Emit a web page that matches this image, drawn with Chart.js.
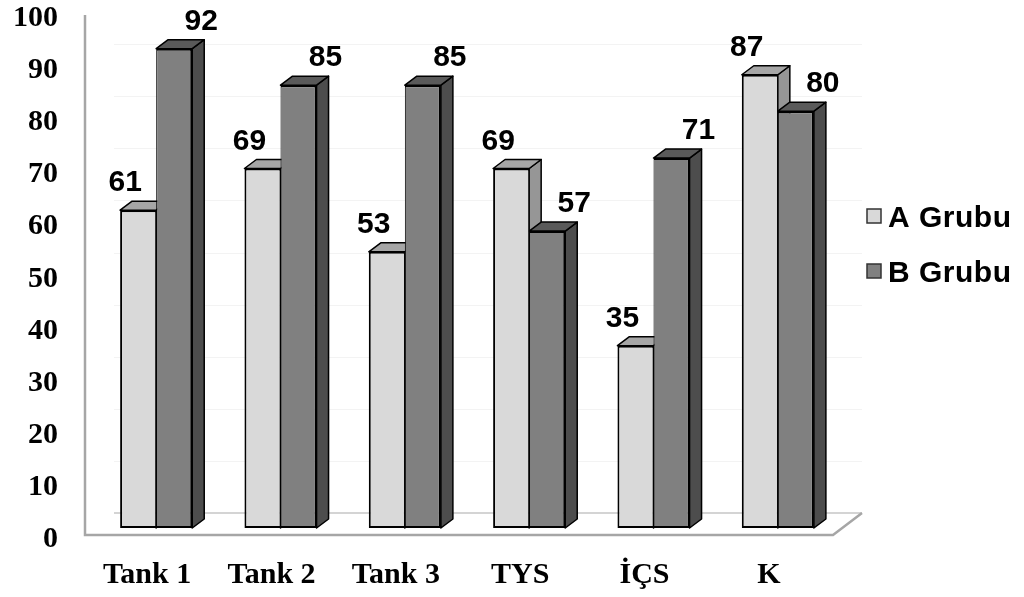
<!DOCTYPE html>
<html>
<head>
<meta charset="utf-8">
<script src="https://cdn.jsdelivr.net/npm/chart.js@4/dist/chart.umd.min.js"></script>
<style>
  html, body { margin: 0; padding: 0; background: #fff; }
  canvas { display: block; }
</style>
</head>
<body>
<canvas id="myChart" width="1024" height="597"></canvas>
<script>
'use strict';

let categories = ['Tank 1', 'Tank 2', 'Tank 3', 'TYS', 'İÇS', 'K'];
let groupA = [61, 69, 53, 69, 35, 87];
let groupB = [92, 85, 85, 57, 71, 80];
let seriesNames = ['A Grubu', 'B Grubu'];
let yTicks = [0, 10, 20, 30, 40, 50, 60, 70, 80, 90, 100];

// front / top / side shades for each series
let shades = [
    { front: '#d9d9d9', top: '#a6a6a6', side: '#969696' },
    { front: '#808080', top: '#5a5a5a', side: '#4d4d4d' }
];

let depthX = 12;
let depthY = -9;

// floor, back wall lines and the left wall edge
let wallPlugin = {
    id: 'wall',
    beforeDatasetsDraw(chart) {
        let ctx = chart.ctx;
        let area = chart.chartArea;
        let yScale = chart.scales.y;
        let base = yScale.getPixelForValue(0);
        ctx.save();

        ctx.strokeStyle = '#f3f3f3';
        ctx.lineWidth = 1;
        for (let i = 1; i < yTicks.length - 1; i++) {
            let gy = Math.round(yScale.getPixelForValue(yTicks[i]) - 15) + 0.5;
            ctx.beginPath();
            ctx.moveTo(area.left + 20, gy);
            ctx.lineTo(area.right + 22, gy);
            ctx.stroke();
        }

        ctx.strokeStyle = '#d4d4d4';
        ctx.lineWidth = 2;
        ctx.beginPath();
        ctx.moveTo(area.left + 20, base - 15);
        ctx.lineTo(area.right + 22, base - 15);
        ctx.stroke();

        ctx.strokeStyle = '#a6a6a6';
        ctx.lineWidth = 2.5;
        ctx.beginPath();
        ctx.moveTo(area.left - 9, 15);
        ctx.lineTo(area.left - 9, base + 7);
        ctx.lineTo(area.right - 7, base + 7);
        ctx.lineTo(area.right + 22, base - 15);
        ctx.stroke();

        ctx.restore();
    }
};

// side and top faces of each bar, drawn before the fronts
let depthPlugin = {
    id: 'depth',
    beforeDatasetsDraw(chart) {
        let ctx = chart.ctx;
        ctx.save();
        ctx.lineWidth = 1.5;
        ctx.lineJoin = 'round';
        ctx.strokeStyle = '#000';
        for (let i = 0; i < categories.length; i++) {
            for (let d = 0; d < chart.data.datasets.length; d++) {
                let bar = chart.getDatasetMeta(d).data[i];
                let p = bar.getProps(['x', 'y', 'base', 'width'], true);
                let left = p.x - p.width / 2;
                let right = p.x + p.width / 2;

                ctx.fillStyle = shades[d].side;
                ctx.beginPath();
                ctx.moveTo(right, p.y);
                ctx.lineTo(right + depthX, p.y + depthY);
                ctx.lineTo(right + depthX, p.base + depthY);
                ctx.lineTo(right, p.base);
                ctx.closePath();
                ctx.fill();
                ctx.stroke();

                ctx.fillStyle = shades[d].top;
                ctx.beginPath();
                ctx.moveTo(left, p.y);
                ctx.lineTo(left + depthX, p.y + depthY);
                ctx.lineTo(right + depthX, p.y + depthY);
                ctx.lineTo(right, p.y);
                ctx.closePath();
                ctx.fill();
                ctx.stroke();
            }
        }
        ctx.restore();
    }
};

// axis texts, value labels and legend
let labelPlugin = {
    id: 'labels',
    afterDraw(chart) {
        let ctx = chart.ctx;
        let xScale = chart.scales.x;
        let yScale = chart.scales.y;
        ctx.save();
        ctx.fillStyle = '#000';

        ctx.font = 'bold 30px "Liberation Serif", "Times New Roman", serif';
        ctx.textAlign = 'right';
        ctx.textBaseline = 'alphabetic';
        yTicks.forEach(function (v) {
            ctx.fillText(String(v), 58, yScale.getPixelForValue(v) + 19);
        });

        ctx.textAlign = 'center';
        categories.forEach(function (c, i) {
            ctx.fillText(c, xScale.getPixelForValue(i) - 9, 583);
        });

        ctx.font = 'bold 30px "Liberation Sans", Arial, sans-serif';
        let shift = [-13, 27];
        chart.data.datasets.forEach(function (ds, d) {
            chart.getDatasetMeta(d).data.forEach(function (bar, i) {
                ctx.fillText(String(ds.data[i]), bar.x + shift[d], bar.y - 19);
            });
        });

        // legend
        ctx.textAlign = 'left';
        ctx.font = 'bold 30px "Liberation Sans", Arial, sans-serif';
        ctx.letterSpacing = '0.5px';
        let rows = [216, 271];
        seriesNames.forEach(function (name, d) {
            ctx.fillStyle = shades[d].front;
            ctx.strokeStyle = '#333';
            ctx.lineWidth = 1.5;
            ctx.fillRect(867, rows[d] - 7, 14, 14);
            ctx.strokeRect(867, rows[d] - 7, 14, 14);
            ctx.fillStyle = '#000';
            ctx.fillText(name, 888, rows[d] + 11);
        });
        ctx.restore();
    }
};

let ctx = document.getElementById('myChart').getContext('2d');
let myChart = new Chart(ctx, {
    type: 'bar',
    data: {
        labels: categories,
        datasets: [{
            label: seriesNames[0],
            data: groupA,
            backgroundColor: shades[0].front,
            borderColor: '#000',
            borderWidth: { left: 2, top: 2, bottom: 2, right: 1 },
            borderSkipped: false,
            categoryPercentage: 0.58,
            barPercentage: 1,
            clip: false
        }, {
            label: seriesNames[1],
            data: groupB,
            backgroundColor: shades[1].front,
            borderColor: '#000',
            borderWidth: { left: 1, top: 2, bottom: 2, right: 2 },
            borderSkipped: false,
            categoryPercentage: 0.58,
            barPercentage: 1,
            clip: false
        }]
    },
    options: {
        responsive: false,
        animation: false,
        layout: {
            padding: { left: 94, right: 184, top: 7, bottom: 69 }
        },
        scales: {
            x: { display: false },
            y: { display: false, min: 0, max: 100 }
        },
        plugins: {
            legend: { display: false },
            tooltip: { enabled: false }
        }
    },
    plugins: [wallPlugin, depthPlugin, labelPlugin]
});
</script>
</body>
</html>
